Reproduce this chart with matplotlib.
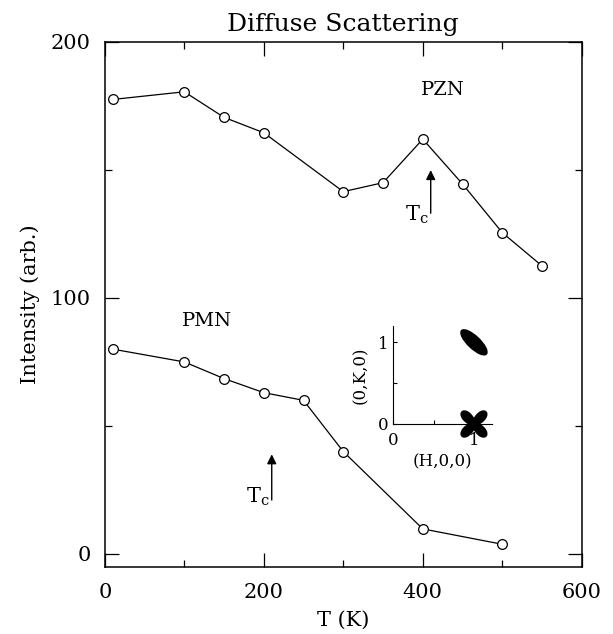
import numpy as np
import matplotlib
matplotlib.use("Agg")
import matplotlib.pyplot as plt
from matplotlib.patches import Ellipse, Polygon

# data
t_pzn = [10, 100, 150, 200, 300, 350, 400, 450, 500, 550]
i_pzn = [177.5, 180.5, 170.5, 164.5, 141.5, 145, 162, 144.5, 125.5, 112.5]
t_pmn = [10, 100, 150, 200, 250, 300, 400, 500]
i_pmn = [80, 75, 68.5, 63, 60, 40, 9.8, 3.8]

tc_pzn = 410
tc_pmn = 210

plt.rcParams['font.family'] = ['DejaVu Serif']
fig = plt.figure(figsize=(6.13, 6.34), dpi=100)
ax = fig.add_axes([0.171, 0.106, 0.778, 0.828])

for t, i in [(t_pzn, i_pzn), (t_pmn, i_pmn)]:
    ax.plot(t, i, '-', color='black', lw=0.9)
    ax.plot(t, i, 'o', mfc='white', mec='black', ms=7, mew=0.9)

ax.set_xlim(0, 600)
ax.set_ylim(-5, 200)
ax.set_xticks([0, 200, 400, 600])
ax.set_xticks([100, 300, 500], minor=True)
ax.set_yticks([0, 100, 200])
ax.set_yticks([50, 150], minor=True)
ax.tick_params(which='both', direction='in', top=True, right=True, labelsize=15)
ax.tick_params(axis='x', pad=12)
ax.tick_params(axis='y', pad=10)
ax.tick_params(which='major', length=10, width=0.9)
ax.tick_params(which='minor', length=5, width=0.9)
for s in ax.spines.values():
    s.set_linewidth(1.1)

ax.set_title('Diffuse Scattering', fontsize=18, pad=8)
ax.set_xlabel('T (K)', fontsize=15, labelpad=6)
ax.set_ylabel('Intensity (arb.)', fontsize=15, labelpad=8)

# annotations
ax.text(425, 181, 'PZN', fontsize=14, ha='center', va='center')
ax.text(128, 91, 'PMN', fontsize=14, ha='center', va='center')
arrow = dict(arrowstyle='-|>', color='black', lw=1.0, mutation_scale=14)
ax.annotate('', xy=(tc_pzn, 151), xytext=(tc_pzn, 132), arrowprops=arrow)
ax.annotate('', xy=(tc_pmn, 40), xytext=(tc_pmn, 20), arrowprops=arrow)
ax.text(tc_pzn - 3, 132.5, r'T$_\mathregular{c}$', fontsize=15, ha='right', va='center')
ax.text(tc_pmn - 3, 22.5, r'T$_\mathregular{c}$', fontsize=15, ha='right', va='center')

# inset: reciprocal space sketch
ins = fig.add_axes([393.3 / 613, 1 - 424 / 634, 98.4 / 613, 98 / 634])
ins.set_xlim(0, 1.22)
ins.set_ylim(0, 1.2)
ins.patch.set_alpha(0)
ins.spines['top'].set_visible(False)
ins.spines['right'].set_visible(False)
ins.set_xticks([0, 1])
ins.set_yticks([0, 1])
ins.set_xticks([0.5], minor=True)
ins.set_yticks([0.5], minor=True)
ins.tick_params(which='both', direction='in', labelsize=12, length=3, width=0.8)
ins.tick_params(axis='x', pad=6)
ins.set_xlabel('(H,0,0)', fontsize=12, labelpad=3)
ins.set_ylabel('(0,K,0)', fontsize=12, labelpad=6)
ins.add_patch(Ellipse((1.0, 1.0), 0.42, 0.15, angle=-43, color='black', clip_on=False))
th = np.linspace(0, 2 * np.pi, 400)
r = 0.14 * (1 - 0.5 * np.cos(4 * th))
ins.add_patch(Polygon(np.column_stack([1.0 + r * np.cos(th), r * np.sin(th)]),
                      color='black', clip_on=False))

fig.savefig('out.png', dpi=100)
